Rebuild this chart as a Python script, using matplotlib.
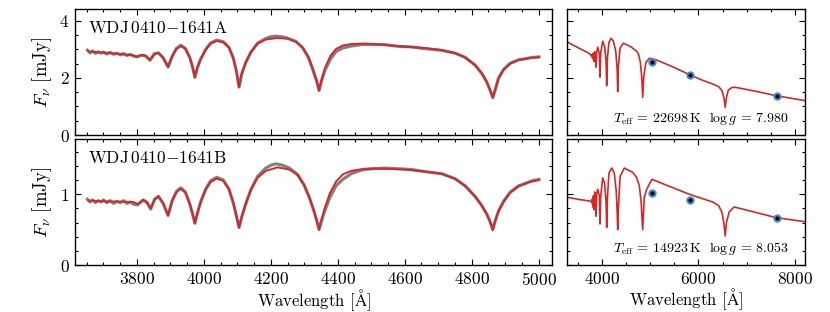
import numpy as np
import matplotlib
matplotlib.use('Agg')
import matplotlib.pyplot as plt
from matplotlib.ticker import MultipleLocator

plt.rcParams['font.family'] = ['cmr10', 'DejaVu Serif']
plt.rcParams['mathtext.fontset'] = 'cm'
plt.rcParams['axes.formatter.use_mathtext'] = True
plt.rcParams['axes.unicode_minus'] = False

# ---- star A: spectrum fit (left top) ----
wl_mod_a = [3655, 3700, 3750, 3790, 3800, 3814, 3826, 3839, 3852, 3864, 3878, 3893, 3905, 3918,
            3931, 3945, 3958, 3966, 3973, 3980, 3990, 4005, 4020, 4038, 4058, 4075, 4088, 4097,
            4105, 4113, 4125, 4140, 4160, 4185, 4217, 4250, 4275, 4295, 4312, 4326, 4337, 4344,
            4351, 4362, 4378, 4395, 4415, 4440, 4480, 4540, 4600, 4660, 4710, 4750, 4780, 4810,
            4830, 4845, 4856, 4863, 4870, 4880, 4895, 4915, 4940, 4970, 5001]
fx_mod_a = [2.93, 2.89, 2.84, 2.79, 2.75, 2.81, 2.78, 2.64, 2.84, 2.88, 2.72, 2.40, 2.75, 3.02,
            3.12, 3.02, 2.72, 2.40, 2.03, 2.35, 2.65, 2.98, 3.20, 3.30, 3.25, 3.07, 2.70, 2.25,
            1.69, 2.15, 2.55, 2.90, 3.20, 3.35, 3.40, 3.38, 3.27, 3.07, 2.75, 2.30, 1.90, 1.57,
            1.92, 2.36, 2.78, 3.02, 3.14, 3.19, 3.21, 3.16, 3.10, 3.05, 2.98, 2.88, 2.72, 2.46,
            2.17, 1.87, 1.55, 1.31, 1.58, 1.98, 2.28, 2.50, 2.63, 2.70, 2.73]

wl_obs_a = [3652, 3660, 3668, 3676, 3684, 3692, 3700, 3710, 3720, 3730, 3740, 3750, 3760, 3770,
            3780, 3790, 3800, 3814, 3826, 3839, 3852, 3864, 3878, 3893, 3905, 3918, 3931, 3945,
            3958, 3966, 3973, 3980, 3990, 4005, 4020, 4038, 4058, 4075, 4088, 4097, 4105, 4113,
            4125, 4140, 4160, 4185, 4200, 4217, 4235, 4250, 4275, 4295, 4312, 4326, 4337, 4344,
            4351, 4362, 4378, 4395, 4415, 4440, 4470, 4500, 4540, 4580, 4620, 4660, 4710, 4750,
            4780, 4810, 4830, 4845, 4856, 4863, 4870, 4880, 4895, 4915, 4940, 4960, 4980, 5001]
fx_obs_a = [2.98, 2.88, 2.95, 2.86, 2.92, 2.87, 2.91, 2.84, 2.90, 2.83, 2.87, 2.81, 2.86, 2.79,
            2.83, 2.77, 2.74, 2.80, 2.77, 2.62, 2.85, 2.88, 2.71, 2.38, 2.76, 3.04, 3.15, 3.03,
            2.71, 2.39, 2.02, 2.34, 2.66, 3.00, 3.23, 3.33, 3.27, 3.07, 2.69, 2.24, 1.68, 2.14,
            2.54, 2.90, 3.22, 3.39, 3.45, 3.47, 3.44, 3.40, 3.28, 3.06, 2.72, 2.27, 1.88, 1.56,
            1.88, 2.28, 2.66, 2.93, 3.05, 3.12, 3.17, 3.18, 3.17, 3.11, 3.09, 3.03, 2.97, 2.87,
            2.73, 2.45, 2.16, 1.86, 1.54, 1.31, 1.57, 1.99, 2.30, 2.52, 2.64, 2.67, 2.72, 2.74]

# ---- star B: spectrum fit (left bottom) ----
wl_mod_b = [3655, 3700, 3750, 3790, 3802, 3819, 3830, 3841, 3853, 3864, 3878, 3893, 3905, 3918,
            3931, 3945, 3958, 3966, 3973, 3980, 3990, 4005, 4020, 4038, 4058, 4075, 4088, 4097,
            4105, 4113, 4125, 4140, 4160, 4185, 4220, 4255, 4280, 4300, 4315, 4328, 4338, 4344,
            4350, 4360, 4376, 4395, 4415, 4440, 4480, 4540, 4600, 4660, 4710, 4750, 4780, 4810,
            4830, 4845, 4856, 4863, 4870, 4880, 4895, 4915, 4940, 4970, 5001]
fx_mod_b = [0.91, 0.90, 0.895, 0.89, 0.86, 0.92, 0.89, 0.80, 0.93, 0.97, 0.88, 0.70, 0.90, 1.03,
            1.08, 1.02, 0.86, 0.73, 0.59, 0.72, 0.88, 1.06, 1.17, 1.22, 1.19, 1.07, 0.88, 0.70,
            0.53, 0.68, 0.87, 1.06, 1.23, 1.33, 1.38, 1.35, 1.27, 1.13, 0.96, 0.78, 0.62, 0.50,
            0.62, 0.79, 1.01, 1.18, 1.28, 1.33, 1.36, 1.36, 1.35, 1.32, 1.29, 1.22, 1.12, 0.97,
            0.84, 0.72, 0.60, 0.495, 0.62, 0.76, 0.89, 1.02, 1.11, 1.17, 1.20]

wl_obs_b = [3652, 3660, 3668, 3676, 3684, 3692, 3700, 3710, 3720, 3730, 3740, 3750, 3760, 3770,
            3780, 3790, 3802, 3819, 3830, 3841, 3853, 3864, 3878, 3893, 3905, 3918, 3931, 3945,
            3958, 3966, 3973, 3980, 3990, 4005, 4020, 4038, 4058, 4075, 4088, 4097, 4105, 4113,
            4125, 4140, 4160, 4185, 4200, 4215, 4235, 4255, 4280, 4300, 4315, 4328, 4338, 4344,
            4350, 4360, 4376, 4395, 4415, 4440, 4470, 4500, 4540, 4580, 4620, 4660, 4710, 4750,
            4780, 4810, 4830, 4845, 4856, 4863, 4870, 4880, 4895, 4915, 4940, 4960, 4980, 5001]
fx_obs_b = [0.93, 0.89, 0.92, 0.88, 0.91, 0.89, 0.92, 0.88, 0.91, 0.87, 0.90, 0.88, 0.91, 0.87,
            0.89, 0.86, 0.85, 0.92, 0.88, 0.79, 0.93, 0.97, 0.87, 0.70, 0.91, 1.04, 1.09, 1.03,
            0.86, 0.72, 0.59, 0.72, 0.89, 1.07, 1.19, 1.24, 1.20, 1.07, 0.87, 0.69, 0.53, 0.68,
            0.86, 1.06, 1.25, 1.37, 1.41, 1.43, 1.41, 1.37, 1.28, 1.12, 0.95, 0.77, 0.61, 0.50,
            0.60, 0.75, 0.95, 1.12, 1.21, 1.29, 1.34, 1.36, 1.37, 1.36, 1.35, 1.32, 1.29, 1.22,
            1.12, 0.97, 0.84, 0.72, 0.60, 0.50, 0.62, 0.76, 0.90, 1.03, 1.12, 1.15, 1.19, 1.21]

# ---- SED fits (right panels) ----
wl_sed_a = [3262, 3400, 3537, 3700, 3779, 3790, 3800, 3812, 3822, 3838, 3852, 3870, 3882, 3895,
            3917, 3950, 3965, 3980, 4021, 4060, 4090, 4103, 4118, 4150, 4192, 4240, 4290, 4320,
            4331, 4345, 4380, 4447, 4600, 4709, 4760, 4800, 4830, 4848, 4870, 4916, 4985, 5040,
            5123, 5500, 5812, 6100, 6296, 6420, 6490, 6530, 6556, 6580, 6620, 6700, 6778, 7200,
            7605, 8226]
fx_sed_a = [3.29, 3.16, 3.04, 2.90, 2.81, 2.76, 2.83, 2.68, 2.86, 2.58, 2.92, 2.85, 2.38, 2.90,
            3.08, 2.85, 2.03, 2.90, 3.29, 3.10, 2.60, 1.73, 2.70, 3.25, 3.39, 3.30, 2.95, 2.30,
            1.52, 2.40, 3.05, 3.22, 3.10, 2.96, 2.85, 2.55, 2.00, 1.32, 2.05, 2.55, 2.69, 2.68,
            2.64, 2.37, 2.12, 1.91, 1.79, 1.70, 1.55, 1.30, 0.97, 1.30, 1.58, 1.67, 1.67, 1.53,
            1.38, 1.20]

wl_sed_b = [3262, 3500, 3779, 3795, 3805, 3815, 3828, 3840, 3855, 3870, 3882, 3895, 3917, 3950,
            3965, 3980, 4021, 4060, 4090, 4103, 4118, 4150, 4207, 4260, 4300, 4320, 4331, 4345,
            4380, 4467, 4641, 4720, 4778, 4815, 4848, 4880, 4931, 5040, 5812, 6296, 6420, 6490,
            6530, 6556, 6580, 6639, 6742, 7605, 8226]
fx_sed_b = [0.96, 0.93, 0.90, 0.88, 0.93, 0.82, 0.98, 0.78, 1.03, 0.98, 0.69, 1.00, 1.07, 0.98,
            0.58, 0.98, 1.23, 1.15, 0.90, 0.53, 0.95, 1.30, 1.37, 1.30, 1.05, 0.75, 0.50, 0.80,
            1.25, 1.37, 1.31, 1.24, 1.12, 0.90, 0.50, 0.95, 1.07, 1.21, 1.00, 0.89, 0.84, 0.74,
            0.58, 0.41, 0.60, 0.75, 0.82, 0.67, 0.61]

# Gaia BP, G, RP
phot_wl = [5035, 5822, 7619]
phot_a = [2.55, 2.11, 1.38]
phot_b = [1.02, 0.92, 0.665]

names = [r'WDJ$\,$0410$-$1641A', r'WDJ$\,$0410$-$1641B']
params = [r'$T_{\rm eff}$ = 22698$\,$K  $\log g$ = 7.980',
          r'$T_{\rm eff}$ = 14923$\,$K  $\log g$ = 8.053']

red = '#d62728'

fig = plt.figure(figsize=(8.3, 3.12), dpi=100)
ax_sa = fig.add_axes([0.0904, 0.5673, 0.5747, 0.4038])
ax_sb = fig.add_axes([0.0904, 0.1506, 0.5747, 0.4038])
ax_pa = fig.add_axes([0.6828, 0.5673, 0.2871, 0.4038])
ax_pb = fig.add_axes([0.6828, 0.1506, 0.2871, 0.4038])

ax_sa.plot(wl_obs_a, fx_obs_a, color='grey', lw=2.2, zorder=1)
ax_sa.plot(wl_mod_a, fx_mod_a, color=red, lw=1.4, zorder=2)
ax_sb.plot(wl_obs_b, fx_obs_b, color='grey', lw=2.2, zorder=1)
ax_sb.plot(wl_mod_b, fx_mod_b, color=red, lw=1.4, zorder=2)

ax_pa.plot(wl_sed_a, fx_sed_a, color=red, lw=1.2, zorder=1)
ax_pa.plot(phot_wl, phot_a, 'o', color='#3a8fd0', ms=6, mew=0, zorder=2)
ax_pa.plot(phot_wl, phot_a, 'o', color='black', ms=3, mew=0, zorder=3)
ax_pb.plot(wl_sed_b, fx_sed_b, color=red, lw=1.2, zorder=1)
ax_pb.plot(phot_wl, phot_b, 'o', color='#3a8fd0', ms=6, mew=0, zorder=2)
ax_pb.plot(phot_wl, phot_b, 'o', color='black', ms=3, mew=0, zorder=3)

for ax in [ax_sa, ax_sb]:
    ax.set_xlim(3615, 5040)
    ax.xaxis.set_major_locator(MultipleLocator(200))
    ax.xaxis.set_minor_locator(MultipleLocator(50))
for ax in [ax_pa, ax_pb]:
    ax.set_xlim(3276, 8207)
    ax.xaxis.set_major_locator(MultipleLocator(2000))
    ax.xaxis.set_minor_locator(MultipleLocator(500))
    ax.set_yticklabels([])

for ax in [ax_sa, ax_pa]:
    ax.set_ylim(0, 4.42)
    ax.yaxis.set_major_locator(MultipleLocator(2))
    ax.yaxis.set_minor_locator(MultipleLocator(0.5))
    ax.set_xticklabels([])
for ax in [ax_sb, ax_pb]:
    ax.set_ylim(0, 1.78)
    ax.yaxis.set_major_locator(MultipleLocator(1))
    ax.yaxis.set_minor_locator(MultipleLocator(0.2))
    ax.set_xlabel(r'Wavelength [$\mathrm{\AA}$]', fontsize=12, labelpad=0)

for ax in [ax_sa, ax_sb, ax_pa, ax_pb]:
    ax.tick_params(which='both', direction='in', top=True, right=True, labelsize=12.5, width=0.8)
    ax.tick_params(which='major', length=4.5, pad=4)
    ax.tick_params(which='minor', length=2.5)
    for s in ax.spines.values():
        s.set_linewidth(1.0)

ax_sa.set_ylabel(r'$F_\nu$ [mJy]', fontsize=13.5)
ax_sb.set_ylabel(r'$F_\nu$ [mJy]', fontsize=13.5)
ax_sa.yaxis.set_label_coords(-0.045, 0.5)
ax_sb.yaxis.set_label_coords(-0.045, 0.5)

ax_sa.text(0.027, 0.85, names[0], transform=ax_sa.transAxes, fontsize=12.5, va='center')
ax_sb.text(0.027, 0.85, names[1], transform=ax_sb.transAxes, fontsize=12.5, va='center')
ax_pa.text(0.93, 0.13, params[0], transform=ax_pa.transAxes, fontsize=10, ha='right', va='center')
ax_pb.text(0.93, 0.13, params[1], transform=ax_pb.transAxes, fontsize=10, ha='right', va='center')

fig.savefig('out.png', dpi=100)
